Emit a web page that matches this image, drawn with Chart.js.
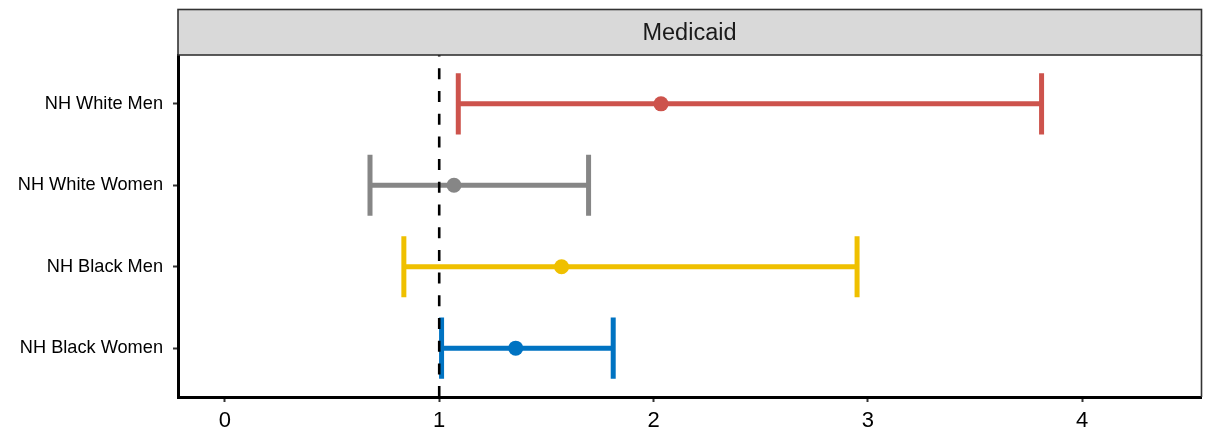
<!DOCTYPE html>
<html>
<head>
<meta charset="utf-8">
<script src="https://cdn.jsdelivr.net/npm/chart.js@4.4.0/dist/chart.umd.min.js"></script>
<style>
  html, body { margin: 0; padding: 0; background: #fff; }
  #wrap { width: 1219px; height: 436px; }
</style>
</head>
<body>
<div id="wrap"><canvas id="myChart"></canvas></div>
<script>
const groups = ['NH White Men', 'NH White Women', 'NH Black Men', 'NH Black Women'];
const rowPos = [4, 3, 2, 1];
const estimate = [2.035, 1.069, 1.571, 1.357];
const lower = [1.089, 0.677, 0.835, 1.011];
const upper = [3.811, 1.697, 2.95, 1.812];
const colors = ['#CD534C', '#868686', '#EFC000', '#0073C2'];
const xTicks = [0, 1, 2, 3, 4];
const refLine = 1;
const panelTitle = 'Medicaid';

const capHalf = 0.375;
const font = '"Liberation Sans", Arial, sans-serif';

let datasets = [];

// dashed reference line on top
datasets.push({
  type: 'line',
  data: [{x: refLine, y: 4.6}, {x: refLine, y: 0.4}],
  borderColor: '#000',
  borderWidth: 2.6,
  borderDash: [11, 11.7],
  borderDashOffset: 9.4,
  pointRadius: 0,
  order: 0
});

groups.forEach((g, i) => {
  let y = rowPos[i];
  // horizontal bar + caps, broken with nulls
  datasets.push({
    type: 'line',
    data: [
      {x: lower[i], y: y}, {x: upper[i], y: y}, {x: upper[i], y: null},
      {x: lower[i], y: y - capHalf}, {x: lower[i], y: y + capHalf}, {x: lower[i], y: null},
      {x: upper[i], y: y - capHalf}, {x: upper[i], y: y + capHalf}
    ],
    borderColor: colors[i],
    borderWidth: 5,
    pointRadius: 0,
    spanGaps: false,
    order: 2
  });
  datasets.push({
    type: 'scatter',
    data: [{x: estimate[i], y: y}],
    backgroundColor: colors[i],
    borderColor: colors[i],
    pointRadius: 7.5,
    borderWidth: 0,
    order: 1
  });
});

const stripPlugin = {
  id: 'strip',
  afterDraw(chart) {
    const {ctx, chartArea} = chart;
    ctx.save();
    // panel right border
    ctx.strokeStyle = '#333333';
    ctx.lineWidth = 1.6;
    ctx.beginPath();
    ctx.moveTo(chartArea.right + 0.5, chartArea.top);
    ctx.lineTo(chartArea.right + 0.5, chartArea.bottom);
    ctx.stroke();
    // strip
    const top = 9.5;
    ctx.fillStyle = '#D9D9D9';
    ctx.fillRect(chartArea.left, top, chartArea.right - chartArea.left + 0.5, chartArea.top - top);
    ctx.lineWidth = 1.6;
    ctx.strokeRect(chartArea.left, top, chartArea.right - chartArea.left + 0.5, chartArea.top - top);
    ctx.fillStyle = '#1A1A1A';
    ctx.font = '23.5px ' + font;
    ctx.textAlign = 'center';
    ctx.textBaseline = 'middle';
    ctx.fillText(panelTitle, (chartArea.left + chartArea.right) / 2, (top + chartArea.top) / 2 + 1);
    ctx.restore();
  }
};

const ctx = document.getElementById('myChart');

let mychart = new Chart(ctx, {
  data: { datasets: datasets },
  options: {
    responsive: true,
    maintainAspectRatio: false,
    animation: false,
    layout: { padding: { top: 55, right: 18, left: 0, bottom: 0 } },
    plugins: { legend: { display: false }, tooltip: { enabled: false } },
    scales: {
      x: {
        type: 'linear',
        min: -0.219,
        max: 4.555,
        afterBuildTicks: (s) => { s.ticks = xTicks.map(v => ({value: v})); },
        afterFit: (s) => { s.height = 39; },
        grid: { drawOnChartArea: false, drawTicks: true, tickLength: 5, tickColor: '#333333', tickWidth: 2 },
        border: { display: true, color: '#000', width: 3 },
        ticks: { color: '#000', font: { family: font, size: 22 }, padding: 6, maxRotation: 0 }
      },
      y: {
        type: 'linear',
        min: 0.4,
        max: 4.6,
        afterBuildTicks: (s) => { s.ticks = rowPos.map(v => ({value: v})); },
        afterFit: (s) => { s.width = 178; },
        grid: { drawOnChartArea: false, drawTicks: true, tickLength: 5, tickColor: '#333333', tickWidth: 2 },
        border: { display: true, color: '#000', width: 3 },
        ticks: {
          color: '#000',
          font: { family: font, size: 18.2 },
          padding: 10,
          callback: (v) => groups[rowPos.indexOf(v)]
        }
      }
    }
  },
  plugins: [stripPlugin]
});
</script>
</body>
</html>
